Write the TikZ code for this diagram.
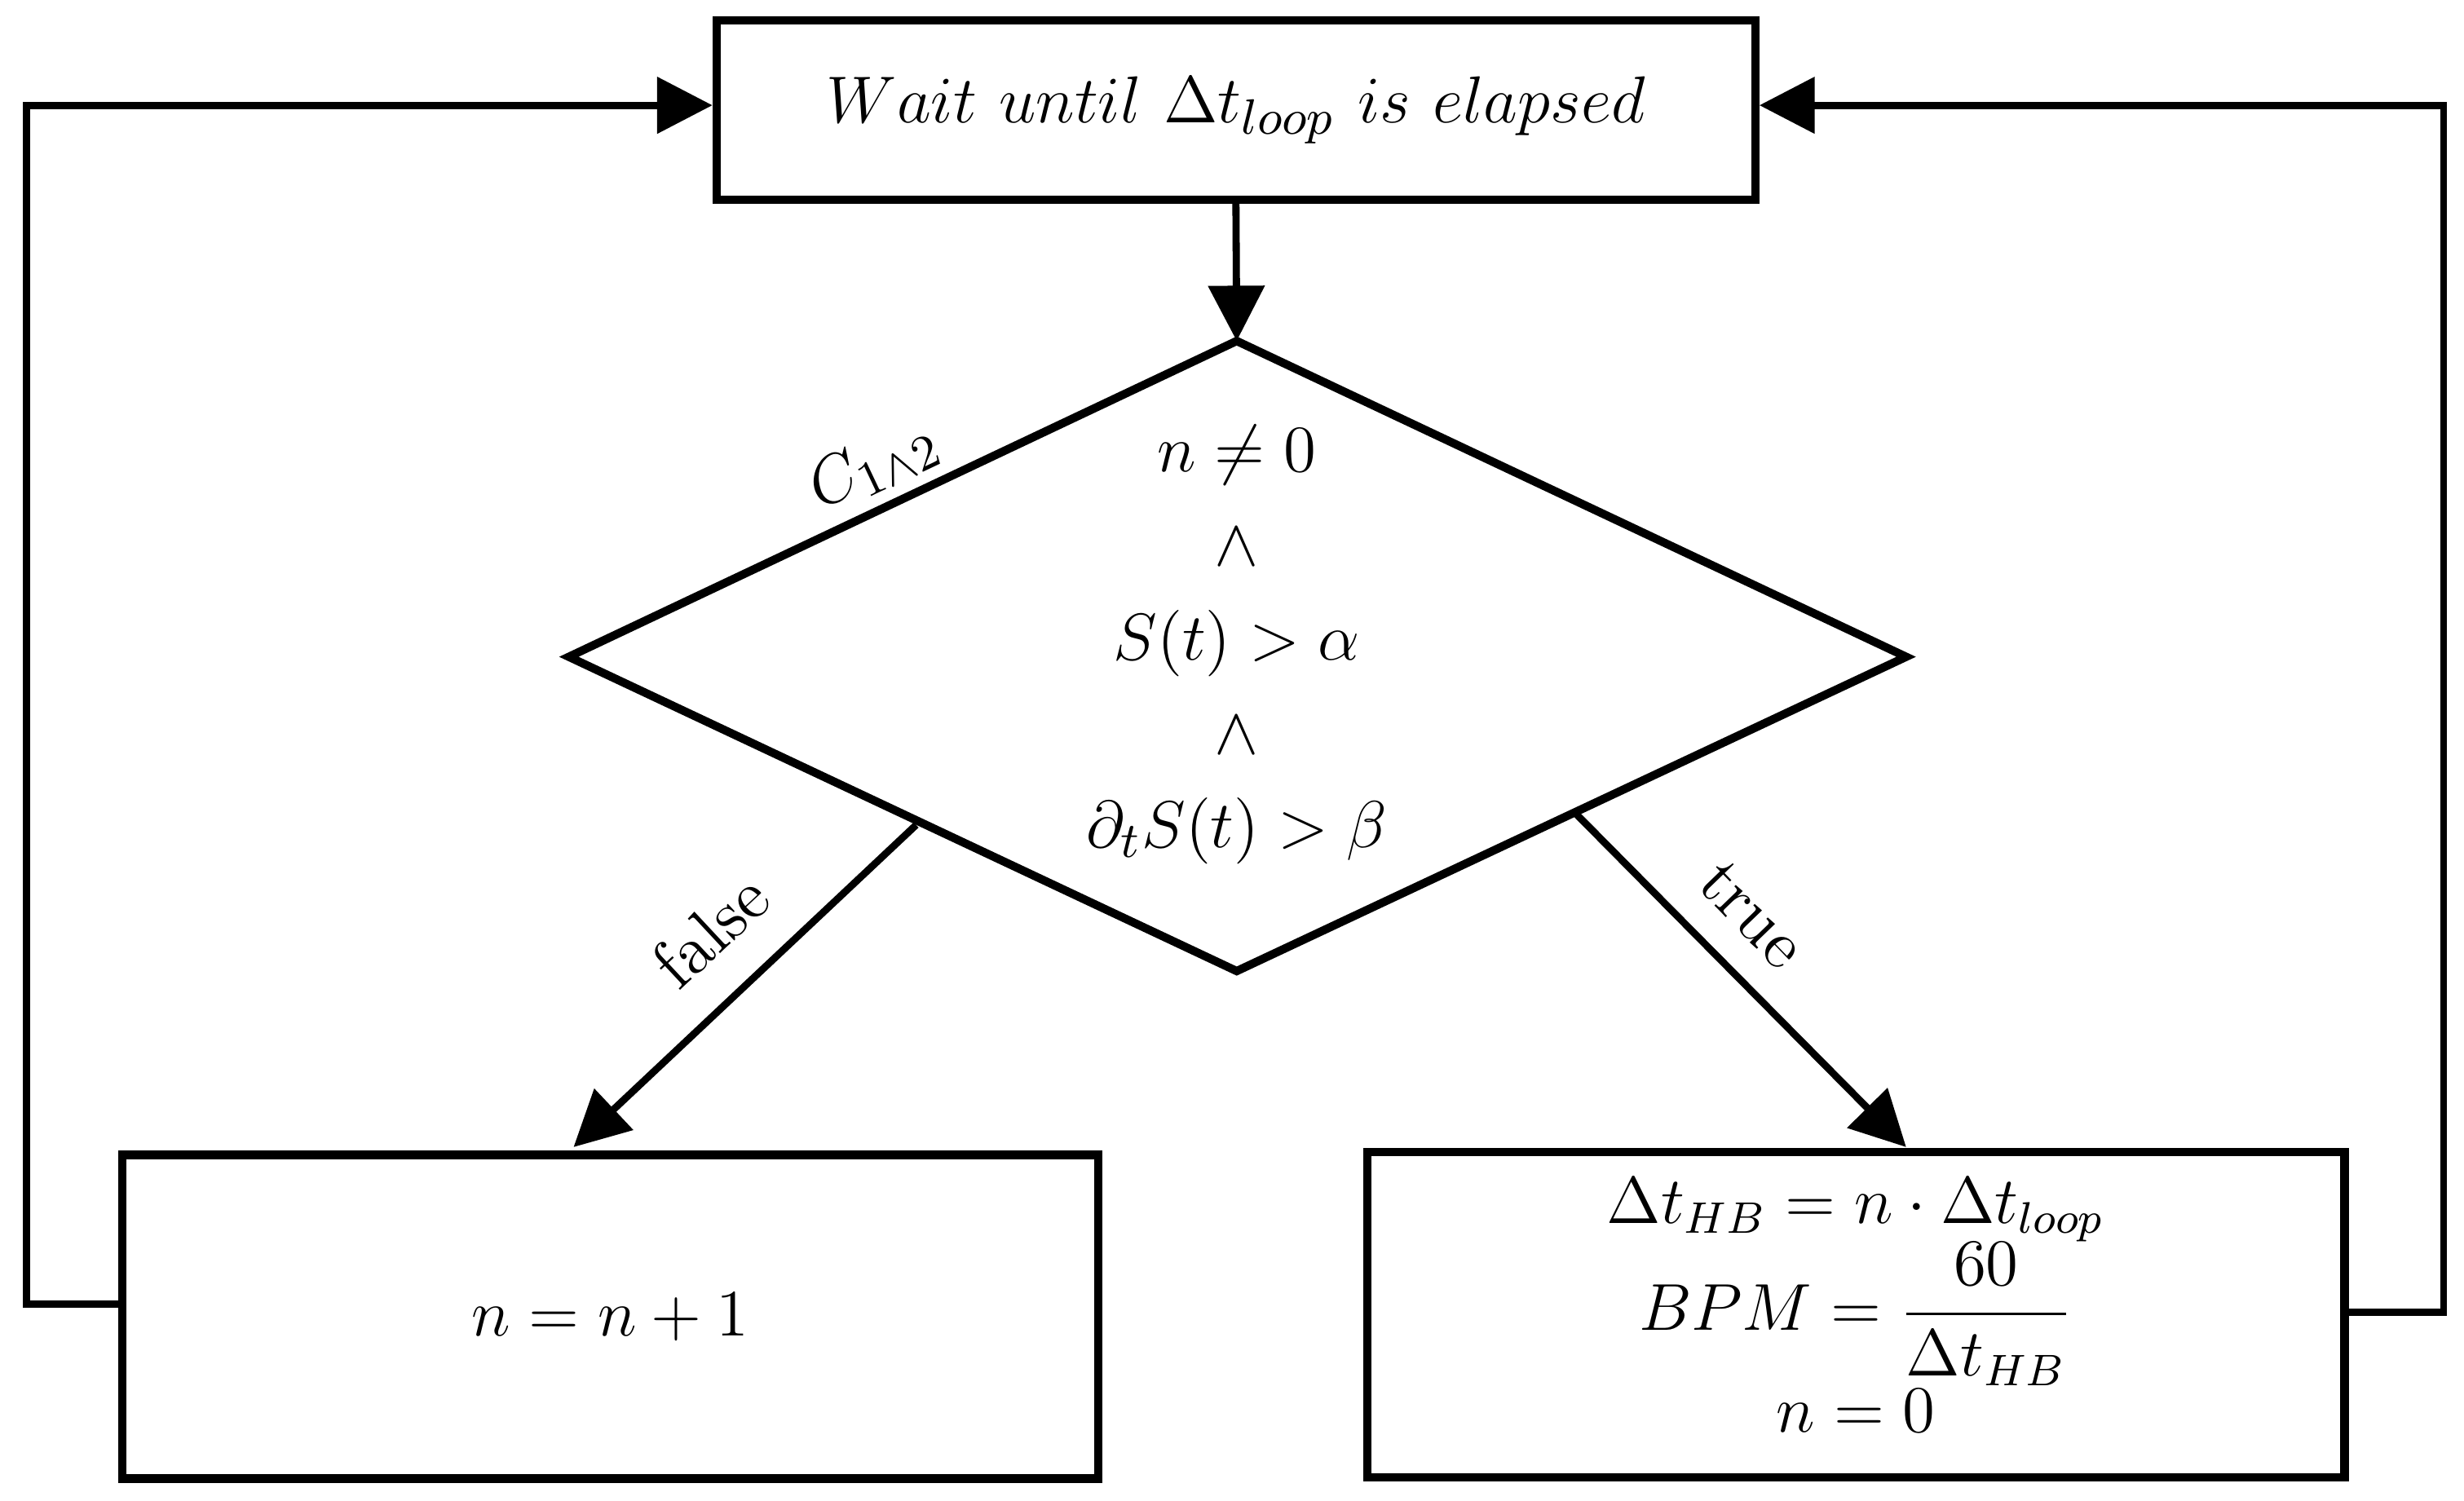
\documentclass[tikz,border=0pt]{standalone}
\usepackage{amsmath}
\usetikzlibrary{arrows.meta}
\begin{document}
\begin{tikzpicture}[x=0.01cm,y=-0.01cm,
  line/.style={line width=1.3pt},
  arr/.style={line, -{Triangle[length=10pt,width=10pt]}},
  box/.style={draw,line width=1.5pt,inner sep=0},
  txt/.style={font=\fontsize{12.5}{14}\selectfont}]
\useasboundingbox (0,0) rectangle (1568,955);
\node[box,minimum width=661*0.01cm,minimum height=114*0.01cm,txt] (top) at (786.5,70) {$Wait\ until\ \Delta t_{loop}\ is\ elapsed$};
\coordinate (dt) at (787,217);
\coordinate (dl) at (362,418);
\coordinate (dr) at (1213,418);
\coordinate (db) at (787,618);
\draw[line width=1.5pt] (dt) -- (dr) -- (db) -- (dl) -- cycle;
\node[txt] (c) at (787,410) {$\begin{array}{c} n\neq 0\\[3pt] \wedge\\[3pt] S(t)>\alpha\\[3pt] \wedge\\[3pt] \partial_t S(t)>\beta\end{array}$};
\node[txt,rotate=25.3] (cl) at (556,296) {$C_{1\wedge 2}$};
\node[box,minimum width=621*0.01cm,minimum height=206*0.01cm,txt] (L) at (388.5,838) {$n=n+1$};
\node[box,minimum width=622*0.01cm,minimum height=207*0.01cm,font=\fontsize{11.5}{12}\selectfont] (R) at (1181,836.5) {$\begin{array}{c}\Delta t_{HB}=n\cdot\Delta t_{loop}\\ BPM=\dfrac{60}{\Delta t_{HB}}\\ n=0\end{array}$};
\coordinate (fs) at (583,525);
\coordinate (fe) at (365,730);
\coordinate (ts) at (1003,518);
\coordinate (te) at (1213,730);
\draw[arr] (top.south) -- (dt);
\draw[arr] (fs) -- (fe);
\draw[arr] (ts) -- (te);
\node[txt,rotate=43] (fl) at (452,592) {false};
\node[txt,rotate=-46] (tl) at (1115,582) {true};
\coordinate (l1) at (17,830);
\coordinate (l2) at (17,67);
\coordinate (r1) at (1555,835);
\coordinate (r2) at (1555,67);
\draw[arr] (L.west |- l1) -- (l1) -- (l2) -- (top.west |- l2);
\draw[arr] (R.east |- r1) -- (r1) -- (r2) -- (top.east |- r2);
\end{tikzpicture}
\end{document}
